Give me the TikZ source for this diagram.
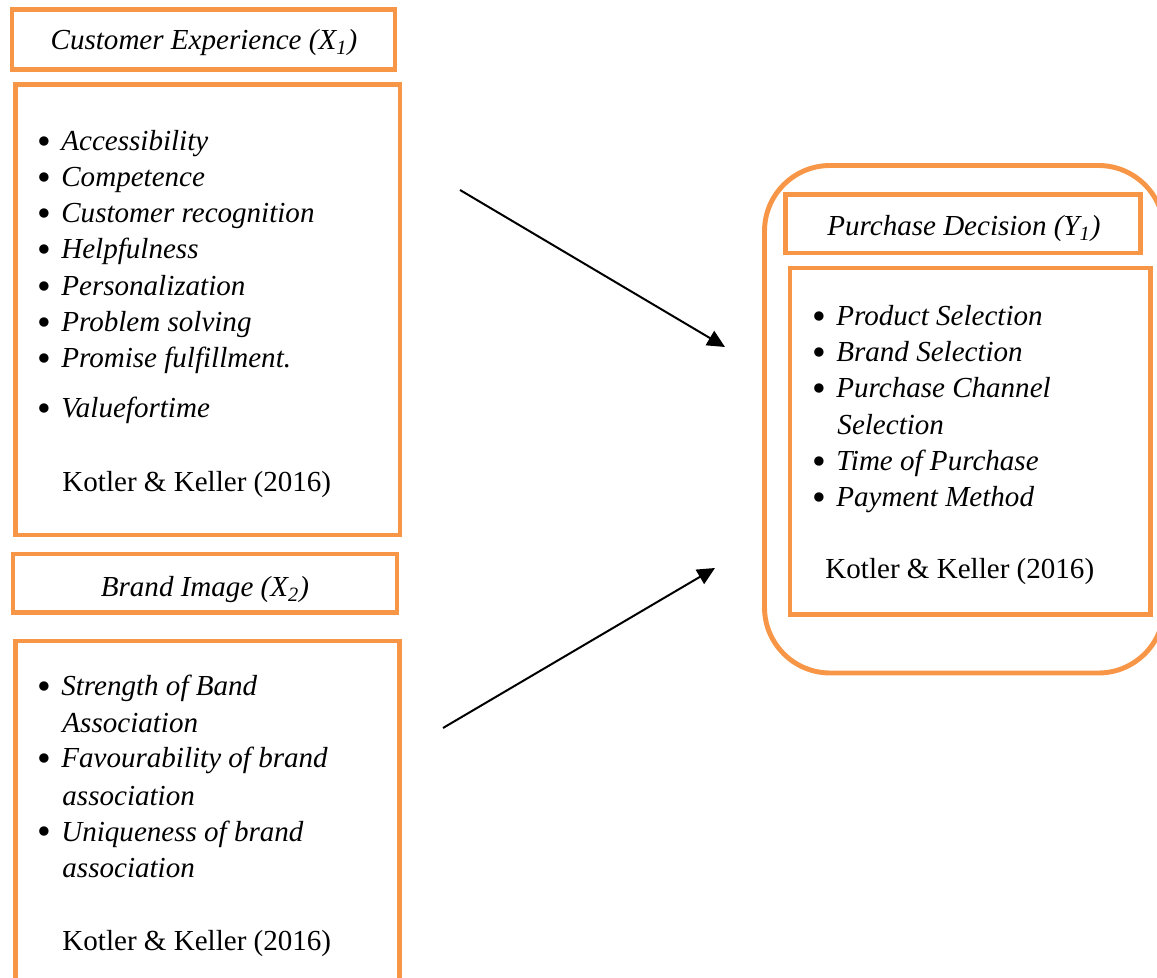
\documentclass[tikz,border=0pt]{standalone}
\usepackage{fontspec}
\setmainfont{Liberation Serif}
\usetikzlibrary{arrows.meta}
\definecolor{boxorange}{HTML}{F79646}
\newcommand{\bul}{\makebox[10.2pt][l]{\raisebox{-1.3pt}{\scalebox{1.35}{\textbullet}}}}
\begin{document}
\begin{tikzpicture}[x=0.015cm,y=-0.015cm,
    frame/.style={draw=boxorange,line width=2.1pt},
    title/.style={anchor=base,inner sep=0pt,font=\itshape},
    item/.style={anchor=base west,inner sep=0pt},
    src/.style={anchor=base west,inner sep=0pt},
    arr/.style={line width=0.85pt,-{Triangle[length=7.5pt,width=7pt]}}]
    \useasboundingbox (0,0) rectangle (1157,978);
    \clip (0,0) rectangle (1157,978);
    \fontsize{12.4pt}{15.4pt}\selectfont
    % customer experience
    \draw[frame] (12,9.5) rectangle (395,69.5);
    \node[title] (cetitle) at (204,50) {Customer Experience (X\textsubscript{1})};
    \draw[frame] (15.5,84.5) rectangle (400,535);
    \node[item] (ce1) at (37,151) {\bul\textit{Accessibility}};
    \node[item] (ce2) at (37,187) {\bul\textit{Competence}};
    \node[item] (ce3) at (37,223) {\bul\textit{Customer recognition}};
    \node[item] (ce4) at (37,259) {\bul\textit{Helpfulness}};
    \node[item] (ce5) at (37,296) {\bul\textit{Personalization}};
    \node[item] (ce6) at (37,332) {\bul\textit{Problem solving}};
    \node[item] (ce7) at (37,368) {\bul\textit{Promise fulfillment.}};
    \node[item] (ce8) at (37,418) {\bul\textit{Valuefortime}};
    \node[src] (cesrc) at (62,492) {Kotler \& Keller (2016)};
    % brand image
    \draw[frame] (13,554) rectangle (397,612.5);
    \node[title] (bititle) at (205,597) {Brand Image (X\textsubscript{2})};
    \draw[frame] (15.5,985) -- (15.5,641) -- (399.5,641) -- (399.5,985);
    \node[item] (bi1) at (37,696) {\bul\textit{Strength of Band}};
    \node[item] (bi1b) at (62,732) {\textit{Association}};
    \node[item] (bi2) at (37,768) {\bul\textit{Favourability of brand}};
    \node[item] (bi2b) at (62,805) {\textit{association}};
    \node[item] (bi3) at (37,841) {\bul\textit{Uniqueness of brand}};
    \node[item] (bi3b) at (62,877) {\textit{association}};
    \node[src] (bisrc) at (62,950) {Kotler \& Keller (2016)};
    % purchase decision
    \draw[frame,rounded corners=28pt] (764.5,165.5) rectangle (1164,673);
    \draw[frame] (785.5,194.5) rectangle (1140.5,253);
    \node[title] (pdtitle) at (964,236) {Purchase Decision (Y\textsubscript{1})};
    \draw[frame] (790,268) rectangle (1150.5,614.5);
    \node[item] (pd1) at (812,326) {\bul\textit{Product Selection}};
    \node[item] (pd2) at (812,362) {\bul\textit{Brand Selection}};
    \node[item] (pd3) at (812,398) {\bul\textit{Purchase Channel}};
    \node[item] (pd3b) at (837,435) {\textit{Selection}};
    \node[item] (pd4) at (812,471) {\bul\textit{Time of Purchase}};
    \node[item] (pd5) at (812,507) {\bul\textit{Payment Method}};
    \node[src] (pdsrc) at (825,579) {Kotler \& Keller (2016)};
    % arrows
    \coordinate (ceout) at (460,190);
    \coordinate (pdin1) at (725,347);
    \coordinate (biout) at (443,728);
    \coordinate (pdin2) at (715,568);
    \draw[arr] (ceout) -- (pdin1);
    \draw[arr] (biout) -- (pdin2);
\end{tikzpicture}
\end{document}
